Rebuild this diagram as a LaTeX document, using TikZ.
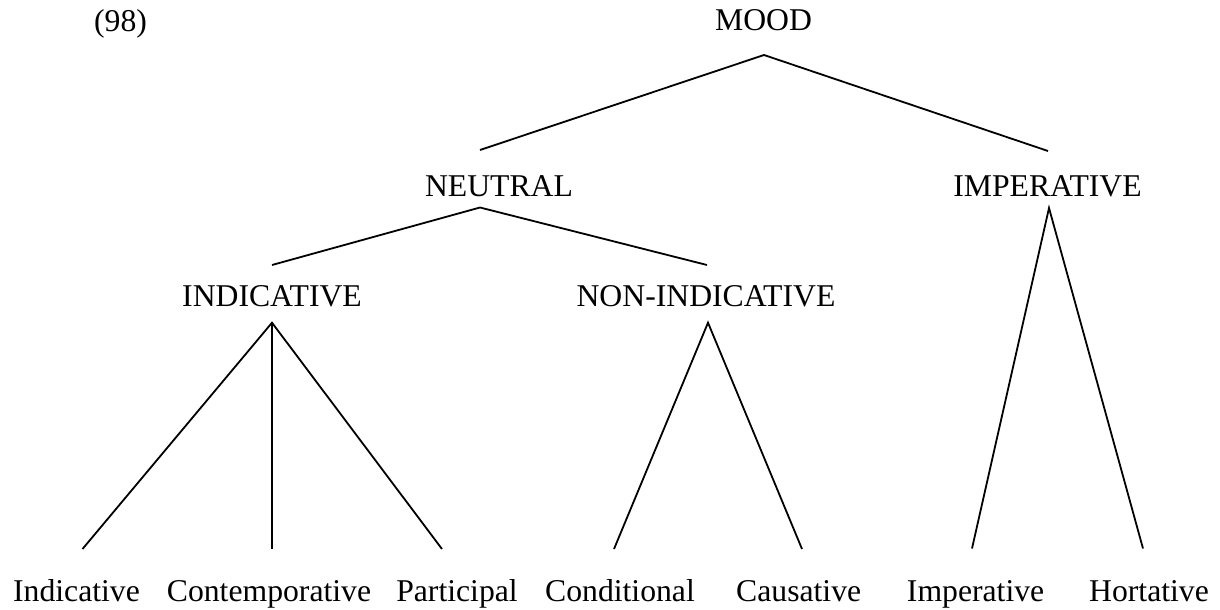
\documentclass[tikz,border=0pt]{standalone}
\usepackage{fontspec}
\setmainfont{Liberation Serif}
\begin{document}
\begin{tikzpicture}[x=1pt,y=-1pt,
  lbl/.style={anchor=base,inner sep=0pt,font=\fontsize{31.7}{38}\selectfont},
  branch/.style={line width=1.8pt,line join=miter}]
\useasboundingbox (0,0) rectangle (1220,610);

% example number
\node[lbl] (num) at (120.5,31.7) {(98)};

% category labels
\node[lbl] (mood)    at (763.5,30.7) {MOOD};
\node[lbl] (neutral) at (499,196)    {NEUTRAL};
\node[lbl] (imper)   at (1047.5,196) {IMPERATIVE};
\node[lbl] (indic)   at (272,306.7)  {INDICATIVE};
\node[lbl] (nonind)  at (706,306.7)  {NON-INDICATIVE};

% leaf labels
\node[lbl] (l1) at (76.5,601)  {Indicative};
\node[lbl] (l2) at (269,601)   {Contemporative};
\node[lbl] (l3) at (457,601)   {Participal};
\node[lbl] (l4) at (620,601)   {Conditional};
\node[lbl] (l5) at (798.7,601) {Causative};
\node[lbl] (l6) at (975.6,601) {Imperative};
\node[lbl] (l7) at (1149,601)  {Hortative};

% branch ends
\coordinate (mood-b)    at (764,55);
\coordinate (neutral-t) at (480,150);
\coordinate (imper-t)   at (1048,151);
\coordinate (neutral-b) at (480,207.5);
\coordinate (imper-b)   at (1049,208);
\coordinate (indic-t)   at (272,265);
\coordinate (nonind-t)  at (707,265);
\coordinate (indic-b)   at (272,322.7);
\coordinate (nonind-b)  at (708,322.7);
\coordinate (l1-t) at (82.5,549);
\coordinate (l2-t) at (272,549);
\coordinate (l3-t) at (442,549);
\coordinate (l4-t) at (614,549);
\coordinate (l5-t) at (802,549);
\coordinate (l6-t) at (972,548.5);
\coordinate (l7-t) at (1143,548.5);

% branches
\draw[branch] (neutral-t) -- (mood-b) -- (imper-t);
\draw[branch] (indic-t) -- (neutral-b) -- (nonind-t);
\draw[branch] (l1-t) -- (indic-b) -- (l3-t);
\draw[branch] (indic-b) -- (l2-t);
\draw[branch] (l4-t) -- (nonind-b) -- (l5-t);
\draw[branch] (l6-t) -- (imper-b) -- (l7-t);
\end{tikzpicture}
\end{document}
